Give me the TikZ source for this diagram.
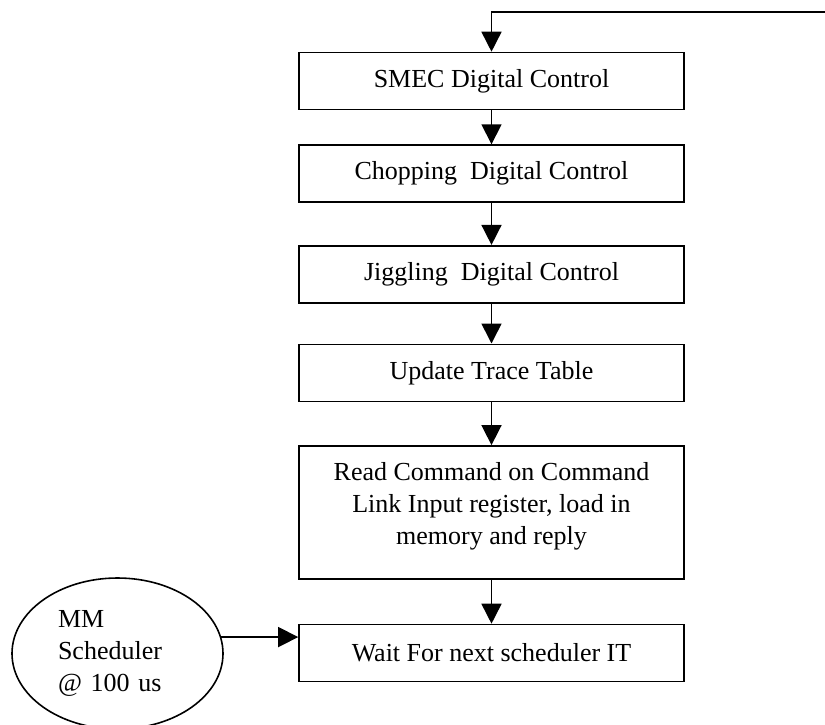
\documentclass[tikz,border=0pt]{standalone}
\usepackage{fontspec}
\setmainfont{Liberation Serif}
\usepackage{tikz}
\usetikzlibrary{positioning}
\usetikzlibrary{shapes.geometric}
\usetikzlibrary{arrows.meta}
\tikzstyle{task}=[rectangle, sharp corners, draw=black, line width=1.6pt,
  minimum width=385pt, minimum height=57pt, inner sep=4pt,
  font=\fontsize{26}{32}\selectfont, align=center]
\tikzstyle{ttask}=[task, minimum height=133pt]
\tikzstyle{trigger}=[ellipse, draw=black, line width=1.6pt,
  minimum width=211pt, minimum height=151pt, inner sep=0pt,
  text width=119pt, font=\fontsize{26}{32}\selectfont, align=left]
\tikzstyle{arrflow}=[-{Triangle[width=20pt,length=20pt]}, line width=1.6pt, draw=black]

\begin{document}
\begin{tikzpicture}[x=1pt, y=-1pt]
\useasboundingbox (0,0) rectangle (825,724);

\node[task] (smecctrl) at (491.5,81) {SMEC Digital Control};
\node[task, below=34pt of smecctrl] (chopctrl) {Chopping\ \ Digital Control};
\node[task, below=42pt of chopctrl] (jigctrl) {Jiggling\ \ Digital Control};
\node[task, below=40pt of jigctrl] (tracetab) {Update Trace Table};
\node[ttask, below=43pt of tracetab] (readcmd) {Read Command on Command\\
                                               Link Input register, load in\\
                                               memory and reply\\[-14pt]\mbox{}};
\node[task, below=44pt of readcmd] (waitit) {Wait For next scheduler IT};

\node[trigger] (mmsched) at (117.5,653.5) {MM\\Scheduler\\@ 100 us};

\draw[arrflow] (smecctrl) -- (chopctrl);
\draw[arrflow] (chopctrl) -- (jigctrl);
\draw[arrflow] (jigctrl) -- (tracetab);
\draw[arrflow] (tracetab) -- (readcmd);
\draw[arrflow] (readcmd) -- (waitit);
\draw[arrflow] (mmsched.9) -- (mmsched.9 -| waitit.west);

% loop back from the right edge
\coordinate (loopin) at (825,12);
\draw[arrflow] (loopin) -| (smecctrl.north);

\end{tikzpicture}
\end{document}
